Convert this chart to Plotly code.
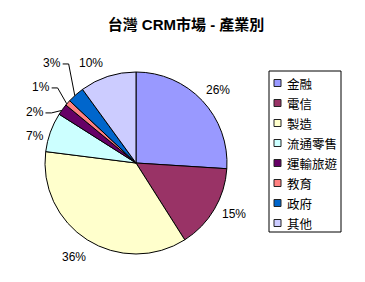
import math
import plotly.graph_objects as go

# Market share by industry (percent)
categories = ["金融", "電信", "製造", "流通零售", "運輸旅遊", "教育", "政府", "其他"]
shares = [26, 15, 36, 7, 2, 1, 3, 10]
colors = ["#9999FF", "#993366", "#FFFFCC", "#CCFFFF", "#660066", "#FF8080", "#0066CC", "#CCCCFF"]
title_text = "台灣 CRM市場 - 產業別"

# Canvas and pie geometry (pixels)
W, H = 365, 282
CX, CY, R = 136, 163, 91

# Label placement: (angle from 12 o'clock clockwise, radius factor, leader line)
label_place = {
    "金融": (48.3, 1.207, False),
    "電信": (117.5, 1.21, False),
    "製造": (213.4, 1.24, False),
    "流通零售": (285.0, 1.15, False),
    "運輸旅遊": (296.8, 1.245, True),
    "教育": (308.7, 1.337, True),
    "政府": (320.0, 1.435, True),
    "其他": (335.8, 1.205, False),
}

LATIN = "Liberation Sans, Arial, sans-serif"
MIXED = "Liberation Sans, Noto Sans CJK TC, sans-serif"
CJK = "Noto Sans CJK TC, Liberation Sans, sans-serif"


def px(x):
    return x / W


def py(y):
    return 1 - y / H


def polar(angle_deg, r):
    a = math.radians(angle_deg)
    return CX + r * math.sin(a), CY - r * math.cos(a)


fig = go.Figure(
    go.Pie(
        labels=categories,
        values=shares,
        sort=False,
        direction="clockwise",
        rotation=0,
        marker=dict(colors=colors, line=dict(color="black", width=1)),
        textinfo="none",
        hoverinfo="label+percent",
        showlegend=False,
        domain=dict(x=[px(CX - R), px(CX + R)], y=[py(CY + R), py(CY - R)]),
    )
)

total = sum(shares)
annotations = []
shapes = []
cum = 0.0
for cat, val in zip(categories, shares):
    mid = (cum + val / 2) / total * 360
    cum += val
    text = f"{round(val / total * 100)}%"
    ang, rf, leader = label_place[cat]
    lx, ly = polar(ang, R * rf)
    annotations.append(dict(
        x=px(lx), y=py(ly), xref="paper", yref="paper", text=text,
        showarrow=False, xanchor="center", yanchor="middle",
        font=dict(family=LATIN, size=12, color="black"),
    ))
    if leader:
        half_w = 3.3 * len(text) + 3
        x0 = lx + half_w + 1
        x1 = x0 + 6
        ex, ey = polar(mid, R)
        shapes.append(dict(
            type="path", xref="paper", yref="paper",
            path=f"M{px(x0)},{py(ly + 1)} L{px(x1)},{py(ly + 1)} L{px(ex - 1)},{py(ey + 1)}",
            line=dict(color="black", width=1),
        ))

# Legend drawn as a boxed list
LEG_X0, LEG_X1, LEG_Y0, LEG_Y1 = 269, 341, 71, 232
ROW0, ROW_STEP = 83, 20
shapes.append(dict(type="rect", xref="paper", yref="paper",
                   x0=px(LEG_X0), x1=px(LEG_X1), y0=py(LEG_Y1), y1=py(LEG_Y0),
                   line=dict(color="black", width=1), fillcolor="white", layer="below"))
for i, (cat, col) in enumerate(zip(categories, colors)):
    yc = ROW0 + i * ROW_STEP
    shapes.append(dict(type="rect", xref="paper", yref="paper",
                       x0=px(274), x1=px(281), y0=py(yc + 3.5), y1=py(yc - 3.5),
                       fillcolor=col, line=dict(color="#222222", width=1)))
    annotations.append(dict(
        x=px(285), y=py(yc), xref="paper", yref="paper", text=cat,
        showarrow=False, xanchor="left", yanchor="middle",
        font=dict(family=CJK, size=12.5, color="black"),
    ))

fig.update_layout(
    width=W, height=H,
    margin=dict(l=0, r=0, t=0, b=0),
    paper_bgcolor="white", plot_bgcolor="white",
    title=dict(text=f"<b>{title_text}</b>", x=px(186), y=py(25),
               xanchor="center", yanchor="middle", xref="paper", yref="paper",
               font=dict(family=MIXED, size=15, color="black")),
    annotations=annotations,
    shapes=shapes,
)

fig.write_html("out.html")
